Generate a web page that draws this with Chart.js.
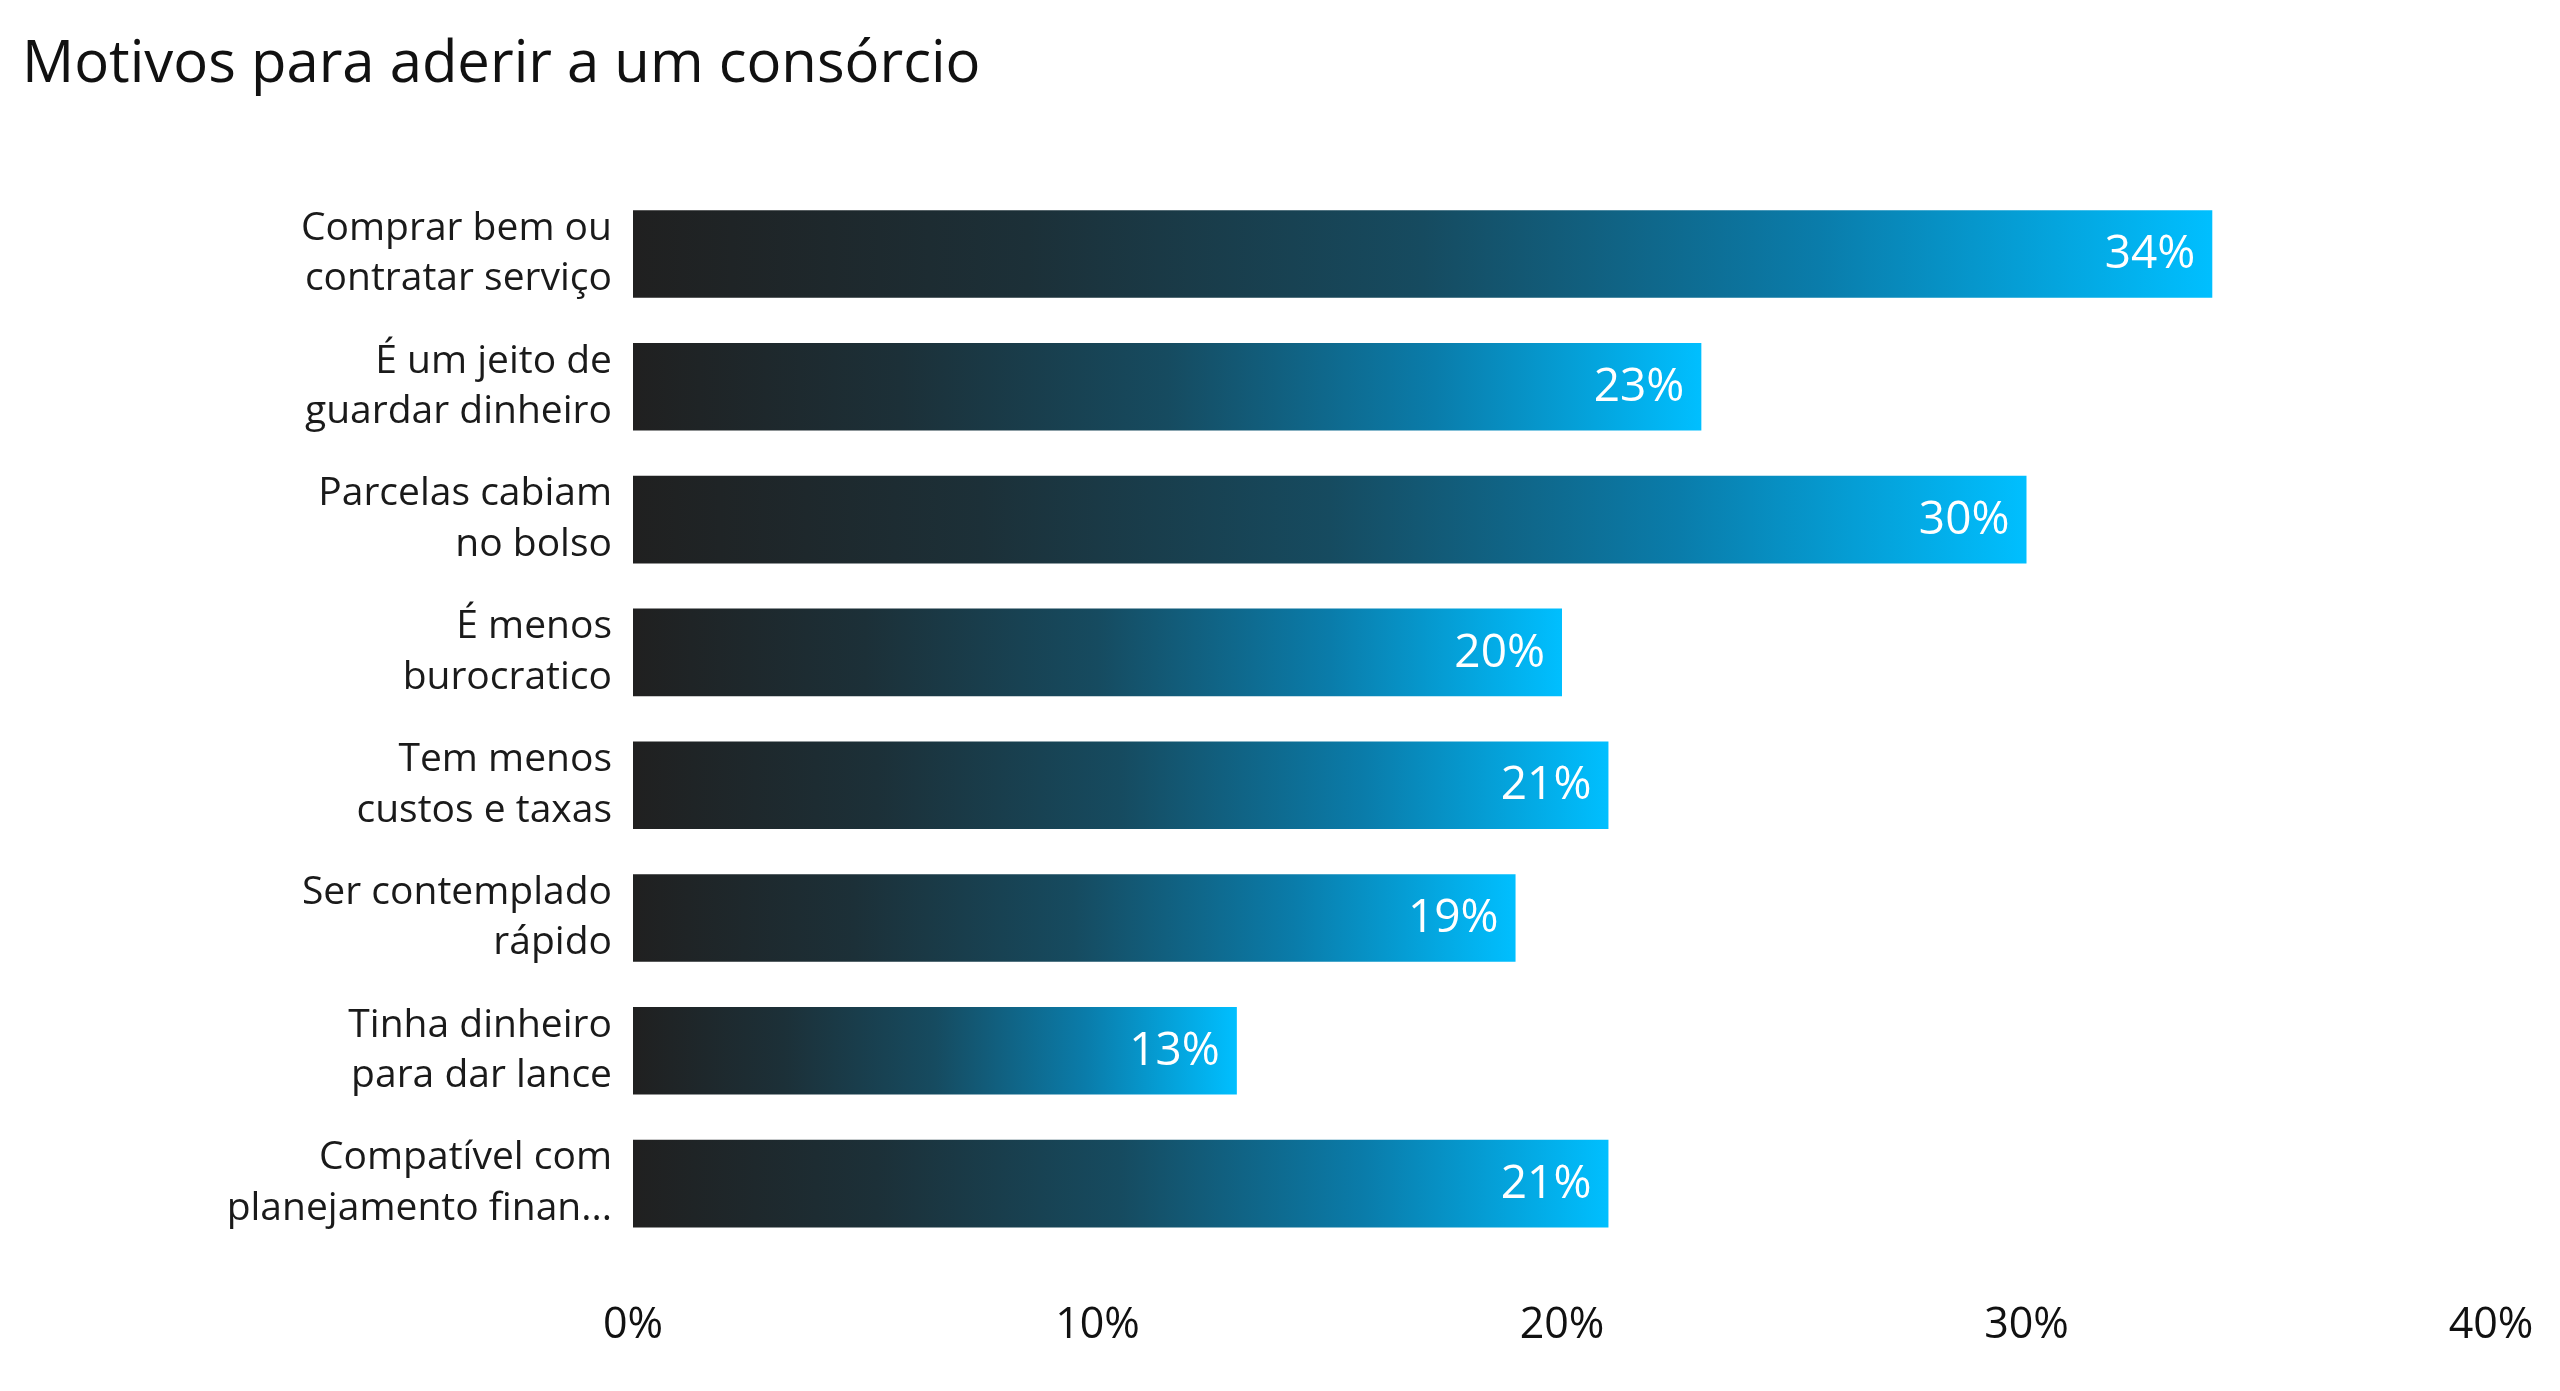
<!DOCTYPE html>
<html>
<head>
<meta charset="utf-8">
<script src="https://cdn.jsdelivr.net/npm/chart.js@4/dist/chart.umd.min.js"></script>
<style>
  html, body { margin: 0; padding: 0; background: #ffffff; }
  #wrap { width: 2560px; height: 1391px; position: relative; }
  canvas { display: block; }
</style>
</head>
<body>
<div id="wrap"><canvas id="c" width="2560" height="1391" style="width:2560px;height:1391px"></canvas></div>
<script>
const title = "Motivos para aderir a um consórcio";
const categories = [
  ["Comprar bem ou", "contratar serviço"],
  ["É um jeito de", "guardar dinheiro"],
  ["Parcelas cabiam", "no bolso"],
  ["É menos", "burocratico"],
  ["Tem menos", "custos e taxas"],
  ["Ser contemplado", "rápido"],
  ["Tinha dinheiro", "para dar lance"],
  ["Compatível com", "planejamento finan..."]
];
const values = [34, 23, 30, 20, 21, 19, 13, 21];
const xTicks = [0, 10, 20, 30, 40];

const FONT = "'Open Sans', 'Noto Sans', sans-serif";

const valueLabels = {
  id: 'valueLabels',
  afterDatasetsDraw(chart) {
    const ctx = chart.ctx;
    const meta = chart.getDatasetMeta(0);
    ctx.save();
    ctx.font = "46px " + FONT;
    ctx.fillStyle = "#ffffff";
    ctx.textAlign = "right";
    ctx.textBaseline = "middle";
    meta.data.forEach((bar, i) => {
      ctx.fillText(values[i] + "%", bar.x - 17, bar.y + 1);
    });
    ctx.restore();
  }
};

function barGradient(context) {
  const chart = context.chart;
  const xs = chart.scales.x;
  if (!xs || context.dataIndex === undefined) return "#0aa0e0";
  const v = values[context.dataIndex];
  const x0 = xs.getPixelForValue(0);
  const x1 = xs.getPixelForValue(v);
  if (!isFinite(x0) || !isFinite(x1) || x1 <= x0) return "#0aa0e0";
  const g = chart.ctx.createLinearGradient(x0, 0, x1, 0);
  g.addColorStop(0, "#202020");
  g.addColorStop(0.25, "#1c3038");
  g.addColorStop(0.5, "#164b60");
  g.addColorStop(0.75, "#0a7caa");
  g.addColorStop(1, "#00bfff");
  return g;
}

new Chart(document.getElementById('c'), {
  type: 'bar',
  data: {
    labels: categories,
    datasets: [{
      data: values,
      backgroundColor: barGradient,
      borderWidth: 0,
      barPercentage: 0.66,
      categoryPercentage: 1.0
    }]
  },
  plugins: [valueLabels],
  options: {
    indexAxis: 'y',
    responsive: false,
    animation: false,
    devicePixelRatio: 1,
    layout: { padding: { left: 22, right: 69, top: 31, bottom: 0 } },
    plugins: {
      legend: { display: false },
      tooltip: { enabled: false },
      title: {
        display: true,
        text: title,
        align: 'start',
        color: '#111111',
        font: { family: FONT, size: 58, weight: 'normal', lineHeight: 1.2 },
        padding: { top: 0, bottom: 87 }
      }
    },
    scales: {
      x: {
        min: 0,
        max: 40,
        afterBuildTicks(scale) { scale.ticks = xTicks.map(v => ({ value: v })); },
        grid: { display: false, drawTicks: false },
        border: { display: false },
        ticks: {
          color: '#111111',
          font: { family: FONT, size: 43 },
          padding: 50,
          maxRotation: 0,
          callback: v => v + '%'
        },
        afterFit(scale) {
          scale.height = 141;
          scale.paddingLeft = 0;
          scale.paddingRight = 0;
        }
      },
      y: {
        grid: { display: false, drawTicks: false },
        border: { display: false },
        ticks: {
          color: '#1a1a1a',
          font: { family: FONT, size: 39, lineHeight: 1.3 },
          padding: 21
        },
        afterFit(scale) { scale.width = 633 - 22; }
      }
    }
  }
});
</script>
</body>
</html>
